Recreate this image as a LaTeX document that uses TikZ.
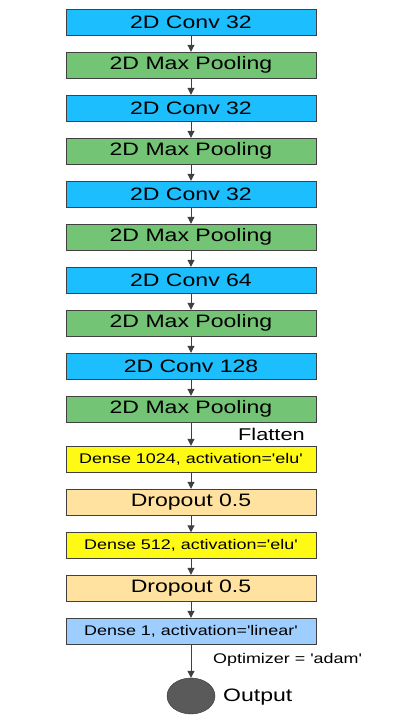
\documentclass[tikz,border=0pt]{standalone}
\usepackage{fontspec}
\setmainfont{Liberation Sans}[FakeStretch=1.28,Ligatures=TeXOff]
\usetikzlibrary{arrows.meta,shapes.geometric}
\definecolor{convblue}{RGB}{28,190,254}
\definecolor{poolgreen}{RGB}{116,196,118}
\definecolor{denseyellow}{RGB}{255,250,20}
\definecolor{dropbeige}{RGB}{255,226,160}
\definecolor{outblue}{RGB}{158,206,255}
\definecolor{outgray}{RGB}{90,90,90}
\begin{document}
\begin{tikzpicture}[x=1pt,y=-1pt,
  layer/.style={draw=black!75,minimum width=250pt,minimum height=26pt,inner sep=0pt,
    font=\fontsize{18}{18}\selectfont},
  small/.style={font=\fontsize{14}{14}\selectfont},
  flow/.style={draw=black!75,line width=1pt,-{Triangle[length=7pt,width=7pt]}}]
\useasboundingbox (0,0) rectangle (413,725);
\pgfmathsetmacro{\xc}{191}
% convolution blocks
\foreach \i/\txt/\col in {1/2D Conv 32/convblue,2/2D Max Pooling/poolgreen,
  3/2D Conv 32/convblue,4/2D Max Pooling/poolgreen,5/2D Conv 32/convblue,
  6/2D Max Pooling/poolgreen,7/2D Conv 64/convblue,8/2D Max Pooling/poolgreen,
  9/2D Conv 128/convblue,10/2D Max Pooling/poolgreen}
  \node[layer,fill=\col] (l\i) at (\xc,{22+43*(\i-1)}) {\txt};
% dense blocks
\node[layer,fill=denseyellow,small] (l11) at (\xc,459) {Dense 1024, activation='elu'};
\node[layer,fill=dropbeige] (l12) at (\xc,502) {Dropout 0.5};
\node[layer,fill=denseyellow,small] (l13) at (\xc,545.5) {Dense 512, activation='elu'};
\node[layer,fill=dropbeige] (l14) at (\xc,588) {Dropout 0.5};
\node[layer,fill=outblue,small] (l15) at (\xc,631) {Dense 1, activation='linear'};
\node[draw=black!80,fill=outgray,ellipse,minimum width=48pt,minimum height=36pt,inner sep=0pt] (out) at (\xc,696) {};
% arrows
\foreach \i [evaluate=\i as \j using int(\i+1)] in {1,...,14}
  \draw[flow] (l\i) -- (l\j);
\draw[flow] (l15) -- (out);
% labels
\node[anchor=west,inner sep=0pt,font=\fontsize{17}{17}\selectfont] (flat) at (238,434) {Flatten};
\node[anchor=west,inner sep=0pt,small] (opt) at (213,660) {Optimizer = 'adam'};
\node[anchor=west,inner sep=0pt,font=\fontsize{18}{18}\selectfont] (outlbl) at (223,697) {Output};
\end{tikzpicture}
\end{document}
